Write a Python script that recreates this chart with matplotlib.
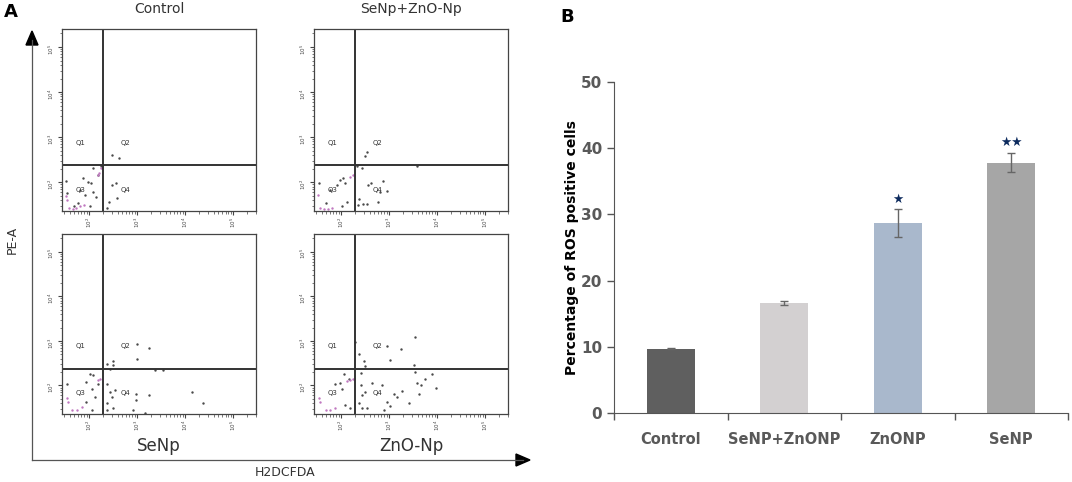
import matplotlib.pyplot as plt
import numpy as np

# ---- panel B data ----
groups = ['Control', 'SeNP+ZnONP', 'ZnONP', 'SeNP']
ros = [9.7, 16.6, 28.7, 37.8]
ros_err = [0.1, 0.3, 2.1, 1.4]
bar_colors = ['#5f5f5f', '#d3d0d1', '#a9b8cc', '#a6a6a6']
stars = ['', '', '★', '★★']
star_y = [0, 0, 32.2, 40.8]

# ---- panel A data (log10 of intensity) ----
ctrl_x = [2.49, 2.63, 2.08, 2.25, 2.20, 1.88, 1.99, 2.04, 2.09, 1.52, 1.55, 1.82, 1.92, 2.15,
          1.78, 1.68, 2.02, 2.48, 2.41, 2.59, 2.56, 2.37]
ctrl_y = [2.60, 2.53, 2.31, 2.36, 2.16, 2.09, 2.01, 1.98, 1.79, 2.03, 1.75, 1.83, 1.72, 1.68,
          1.53, 1.46, 1.46, 1.94, 1.57, 1.64, 1.98, 1.42]
ctrl_px = [2.18, 2.22, 2.26, 1.52, 1.54, 1.58, 1.66, 1.74, 1.82, 1.90]
ctrl_py = [2.16, 2.21, 2.31, 1.70, 1.60, 1.42, 1.40, 1.43, 1.46, 1.50]

mix_x = [2.50, 2.55, 2.34, 2.43, 3.58, 2.62, 2.57, 2.88, 2.82, 2.95, 2.38, 2.47, 2.55, 2.78,
         2.36, 2.05, 1.98, 2.09, 1.91, 1.77, 2.13, 2.02, 1.70, 1.55]
mix_y = [2.58, 2.68, 2.36, 2.31, 2.37, 1.99, 1.94, 2.03, 1.79, 1.81, 1.62, 1.52, 1.52, 1.57,
         1.49, 2.09, 2.05, 1.98, 1.94, 1.83, 1.57, 1.46, 1.53, 1.99]
mix_px = [2.19, 2.25, 1.57, 1.65, 1.74, 1.82, 1.53]
mix_py = [2.12, 2.16, 1.42, 1.41, 1.41, 1.43, 1.72]

se_x = [3.01, 3.26, 3.01, 2.50, 2.37, 2.51, 2.44, 3.38, 3.55, 2.37, 2.44, 2.54, 2.48, 2.98,
        3.26, 2.99, 2.37, 2.51, 2.91, 3.17, 4.14, 4.38, 2.37, 2.02, 2.09, 1.95, 2.06, 2.20,
        2.13, 1.95, 2.06, 1.54]
se_y = [2.93, 2.84, 2.60, 2.56, 2.49, 2.46, 2.38, 2.34, 2.34, 2.04, 1.86, 1.89, 1.74, 1.82,
        1.78, 1.67, 1.61, 1.49, 1.45, 1.38, 1.86, 1.61, 1.45, 2.26, 2.23, 2.08, 1.93, 2.04,
        1.74, 1.63, 1.45, 2.04]
se_px = [2.18, 2.23, 1.55, 1.56, 1.64, 1.75, 1.85]
se_py = [2.12, 2.15, 1.71, 1.63, 1.45, 1.46, 1.51]

zn_x = [3.55, 2.30, 2.96, 3.26, 2.37, 3.03, 2.48, 2.50, 3.52, 3.54, 2.41, 3.76, 3.90, 3.59,
        3.66, 3.99, 2.86, 2.65, 2.41, 2.51, 2.44, 3.10, 3.27, 3.41, 3.62, 2.96, 2.89, 2.54,
        2.44, 2.37, 3.17, 3.03, 2.06, 1.88, 1.99, 2.02, 2.16, 2.09, 2.20]
zn_y = [3.09, 2.97, 2.88, 2.82, 2.71, 2.58, 2.54, 2.43, 2.45, 2.30, 2.28, 2.15, 2.26, 2.06,
        2.00, 1.95, 2.00, 2.06, 2.00, 1.86, 1.78, 1.82, 1.88, 1.61, 1.80, 1.63, 1.45, 1.49,
        1.49, 1.60, 1.74, 1.54, 2.26, 2.04, 2.06, 1.93, 2.15, 1.56, 1.49]
zn_px = [2.20, 2.25, 2.12, 1.55, 1.57, 1.68, 1.78, 1.88]
zn_py = [2.12, 2.15, 2.10, 1.71, 1.63, 1.45, 1.45, 1.49]

panels = [
    ('Control', 'top', ctrl_x, ctrl_y, ctrl_px, ctrl_py),
    ('SeNp+ZnO-Np', 'top', mix_x, mix_y, mix_px, mix_py),
    ('SeNp', 'bottom', se_x, se_y, se_px, se_py),
    ('ZnO-Np', 'bottom', zn_x, zn_y, zn_px, zn_py),
]
decades = [2, 3, 4, 5]
gate_x = 2.29
gate_y = 2.38

W, H = 1072, 482
fig = plt.figure(figsize=(W / 100, H / 100), dpi=100)

boxes = [(62, 29, 256, 211), (314, 29, 508, 211), (62, 234, 256, 414), (314, 234, 508, 414)]
for (name, where, gx, gy, px, py), (l, t, r, b) in zip(panels, boxes):
    ax = fig.add_axes([l / W, 1 - b / H, (r - l) / W, (b - t) / H])
    ax.set_xlim(1.44, 5.48)
    ax.set_ylim(1.36, 5.40)
    for s in ax.spines.values():
        s.set_color('#444444')
        s.set_linewidth(0.9)
    ax.axvline(gate_x, color='#333333', lw=1.4)
    ax.axhline(gate_y, color='#333333', lw=1.4)
    ax.scatter(gx, gy, s=3, color='#4a4a4a', lw=0)
    ax.scatter(px, py, s=3, color='#c077c0', lw=0)
    ax.set_xticks(decades)
    ax.set_yticks(decades)
    minors = [d + np.log10(k) for d in range(1, 6) for k in range(2, 10)]
    ax.set_xticks([m for m in minors if 1.44 < m < 5.48], minor=True)
    ax.set_yticks([m for m in minors if 1.36 < m < 5.40], minor=True)
    ax.set_xticklabels(['$10^%d$' % d for d in decades], fontsize=4, rotation=90, color='#444444')
    ax.set_yticklabels(['$10^%d$' % d for d in decades], fontsize=4, rotation=90, color='#444444')
    ax.tick_params(which='major', length=3, width=0.8, pad=1, color='#444444')
    ax.tick_params(which='minor', length=1.8, width=0.5, color='#444444')
    for q, (qx, qy) in zip(['Q1', 'Q2', 'Q3', 'Q4'],
                           [(1.82, 2.88), (2.76, 2.88), (1.82, 1.83), (2.76, 1.83)]):
        ax.text(qx, qy, q, fontsize=5, color='#333333', ha='center', va='center')
    if where == 'top':
        ax.text(0.5, 1.07, name, transform=ax.transAxes, ha='center', va='bottom',
                fontsize=10, color='#333333')
    else:
        ax.text(0.5, -0.13, name, transform=ax.transAxes, ha='center', va='top',
                fontsize=12, color='#333333')

# outer axes arrows of panel A
fig.add_artist(plt.Line2D([32 / W, 523 / W], [1 - 460 / H, 1 - 460 / H], color='#555555', lw=0.9))
fig.add_artist(plt.Line2D([32 / W, 32 / W], [1 - 460 / H, 1 - 40 / H], color='#555555', lw=0.9))
fig.patches.append(plt.Polygon([[26 / W, 1 - 45 / H], [38 / W, 1 - 45 / H], [32 / W, 1 - 31 / H]],
                               closed=True, color='black', transform=fig.transFigure))
fig.patches.append(plt.Polygon([[516 / W, 1 - 454 / H], [516 / W, 1 - 466 / H], [530 / W, 1 - 460 / H]],
                               closed=True, color='black', transform=fig.transFigure))
fig.text(12 / W, 1 - 240 / H, 'PE-A', rotation=90, ha='center', va='center', fontsize=9, color='#333333')
fig.text(285 / W, 1 - 473 / H, 'H2DCFDA', ha='center', va='center', fontsize=9, color='#333333')
fig.text(4 / W, 1 - 12 / H, 'A', fontsize=13, fontweight='bold', ha='left', va='center')
fig.text(560 / W, 1 - 17 / H, 'B', fontsize=13, fontweight='bold', ha='left', va='center')

# ---- panel B ----
axb = fig.add_axes([614 / W, 1 - 413 / H, 454 / W, 331 / H])
xpos = np.arange(len(groups)) + 0.5
axb.bar(xpos, ros, width=0.42, color=bar_colors)
axb.errorbar(xpos, ros, yerr=ros_err, fmt='none', ecolor='#666666', elinewidth=1, capsize=3, capthick=1)
for x, s, sy in zip(xpos, stars, star_y):
    if s:
        axb.text(x, sy, s, ha='center', va='center', fontsize=9, color='#0d2b5e')
axb.set_xlim(0, 4)
axb.set_ylim(0, 50)
axb.set_yticks([0, 10, 20, 30, 40, 50])
axb.set_xticks([0, 1, 2, 3, 4])
axb.set_xticklabels([])
axb.set_xticks(xpos, minor=True)
axb.set_xticklabels(groups, minor=True)
axb.tick_params(axis='x', which='minor', length=0, pad=14, labelsize=10.5, labelcolor='#595959')
axb.tick_params(axis='x', which='major', length=5, width=1, color='#555555', direction='out')
axb.tick_params(axis='y', length=5, width=1, color='#555555', labelsize=11, labelcolor='#595959')
for lab in axb.get_yticklabels() + axb.get_xticklabels(minor=True):
    lab.set_fontweight('bold')
axb.spines['top'].set_visible(False)
axb.spines['right'].set_visible(False)
axb.spines['left'].set_color('#555555')
axb.spines['bottom'].set_color('#555555')
axb.set_ylabel('Percentage of ROS positive cells', fontsize=10, fontweight='bold', labelpad=1)

plt.savefig('out.png', dpi=100)
